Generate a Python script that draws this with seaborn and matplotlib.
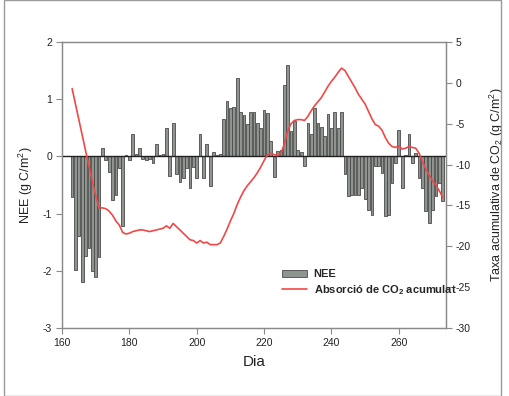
import numpy as np
import pandas as pd
import matplotlib
matplotlib.use("Agg")
import matplotlib.pyplot as plt
import seaborn as sns
from matplotlib.patches import Patch, Rectangle
from matplotlib.lines import Line2D

days = list(range(163, 274))
nee = [-0.71, -1.98, -1.40, -2.20, -1.74, -1.61, -2.01, -2.10, -1.75, 0.15,
       -0.07, -0.28, -0.77, -0.67, -0.20, -1.22, 0.02, -0.07, 0.39, 0.05,
       0.15, -0.04, -0.07, -0.05, -0.11, 0.22, 0.02, 0.05, 0.49, -0.35,
       0.59, -0.30, -0.45, -0.38, -0.20, -0.55, -0.18, -0.37, 0.40, -0.38,
       0.21, -0.51, 0.08, 0.03, 0.05, 0.65, 0.97, 0.85, 0.87, 1.37,
       0.77, 0.72, 0.56, 0.78, 0.77, 0.58, 0.50, 0.81, 0.75, 0.27,
       -0.36, 0.09, 0.12, 1.25, 1.60, 0.45, 0.62, 0.11, 0.08, -0.17,
       0.58, 0.40, 0.85, 0.59, 0.52, 0.36, 0.74, 0.50, 0.78, 0.50,
       0.77, -0.30, -0.70, -0.67, -0.68, -0.67, -0.55, -0.75, -0.93, -1.02,
       -0.17, -0.17, -0.29, -1.05, -1.02, -0.46, -0.11, 0.46, -0.55, 0.03,
       0.39, -0.12, 0.06, -0.37, -0.55, -0.96, -1.16, -0.93, -0.70, -0.46,
       -0.78]
cum = [-0.7, -2.6, -4.5, -6.4, -8.3, -10.2, -12.0, -13.8, -15.3, -15.3,
       -15.4, -15.7, -16.2, -16.9, -17.4, -18.3, -18.5, -18.4, -18.2, -18.1,
       -18.0, -18.0, -18.1, -18.2, -18.1, -18.0, -17.9, -17.8, -17.5, -17.8,
       -17.2, -17.6, -18.0, -18.4, -18.8, -19.2, -19.3, -19.6, -19.3, -19.6,
       -19.5, -19.8, -19.8, -19.8, -19.6, -18.8, -17.9, -16.9, -16.0, -14.9,
       -14.0, -13.2, -12.6, -12.1, -11.6, -11.0, -10.3, -9.5, -8.8, -8.6,
       -8.8, -8.9, -8.6, -7.5, -5.9, -5.0, -4.6, -4.5, -4.5, -4.6,
       -4.1, -3.4, -2.8, -2.3, -1.8, -1.1, -0.4, 0.2, 0.7, 1.3,
       1.8, 1.5, 0.8, 0.1, -0.6, -1.4, -2.0, -2.6, -3.5, -4.4,
       -5.1, -5.3, -5.8, -6.7, -7.4, -7.8, -7.9, -7.7, -8.1, -8.0,
       -7.8, -7.9, -8.0, -8.6, -9.6, -10.6, -11.3, -12.0, -12.5, -13.2,
       -14.0]

xticks = [160, 180, 200, 220, 240, 260]
yticks_left = [2, 1, 0, -1, -2, -3]
yticks_right = [5, 0, -5, -10, -15, -20, -25, -30]

df = pd.DataFrame({"Dia": days, "NEE": nee, "Cum": cum})

sns.set_theme(style="white")
plt.rcParams["font.family"] = ["Liberation Sans", "DejaVu Sans"]
plt.rcParams["mathtext.default"] = "regular"

fig = plt.figure(figsize=(5.09, 3.96), dpi=100)
ax = fig.add_axes([62/509, 1-328/396, 384/509, 286/396])
ax2 = ax.twinx()

spine_col = "#8a8a8a"
bar_fc = "#8e948e"
bar_ec = "#4a4a4a"
red = "#f04848"

sns.barplot(data=df, x="Dia", y="NEE", native_scale=True, ax=ax,
            color=bar_fc, edgecolor=bar_ec, linewidth=0.6, width=0.8,
            saturation=1, errorbar=None, zorder=2)
ax.axhline(0, color="#222222", lw=1.0, zorder=3)

sns.lineplot(data=df, x="Dia", y="Cum", ax=ax2, color=red, lw=1.2)

ax.set_xlim(160, 274)
ax.set_ylim(-3, 2)
ax2.set_ylim(-30, 5)
ax.set_xticks(xticks)
ax.set_yticks(yticks_left)
ax2.set_yticks(yticks_right)
ax.set_xticklabels([str(t) for t in xticks])
ax.set_yticklabels([str(t) for t in yticks_left])
ax2.set_yticklabels([str(t) for t in yticks_right])

for a in (ax, ax2):
    for s in a.spines.values():
        s.set_color(spine_col)
        s.set_linewidth(0.9)
    a.tick_params(axis="both", which="major", direction="out", length=4,
                  width=0.8, color=spine_col, labelsize=7.5, labelcolor="#222222", pad=3)
ax.tick_params(left=True, bottom=True)
ax2.tick_params(right=True)

ax.set_xlabel("Dia", fontsize=11, color="#222222", labelpad=5)
ax.set_ylabel("NEE (g C/m$^2$)", fontsize=9, color="#222222", labelpad=6)
ax2.set_ylabel("Taxa acumulativa de CO$_2$ (g C/m$^2$)", fontsize=9,
               color="#222222", labelpad=12)

handles = [Patch(facecolor=bar_fc, edgecolor=bar_ec, linewidth=0.6),
           Line2D([0], [0], color=red, lw=1.2)]
labels = ["NEE", "Absorció de CO$_2$ acumulat"]
leg = fig.legend(handles, labels, loc="upper left",
                 bbox_to_anchor=(278/509, 1-265/396), frameon=False,
                 prop={"weight": "bold", "size": 8}, handlelength=2.2,
                 handletextpad=0.6, labelspacing=0.3, borderaxespad=0)
leg.set_zorder(10)

fig.patches.append(Rectangle((4/509, 0), 497/509, 1.0, transform=fig.transFigure,
                             fill=False, edgecolor="#9a9a9a", lw=1.0))

fig.savefig("out.png", dpi=100)
